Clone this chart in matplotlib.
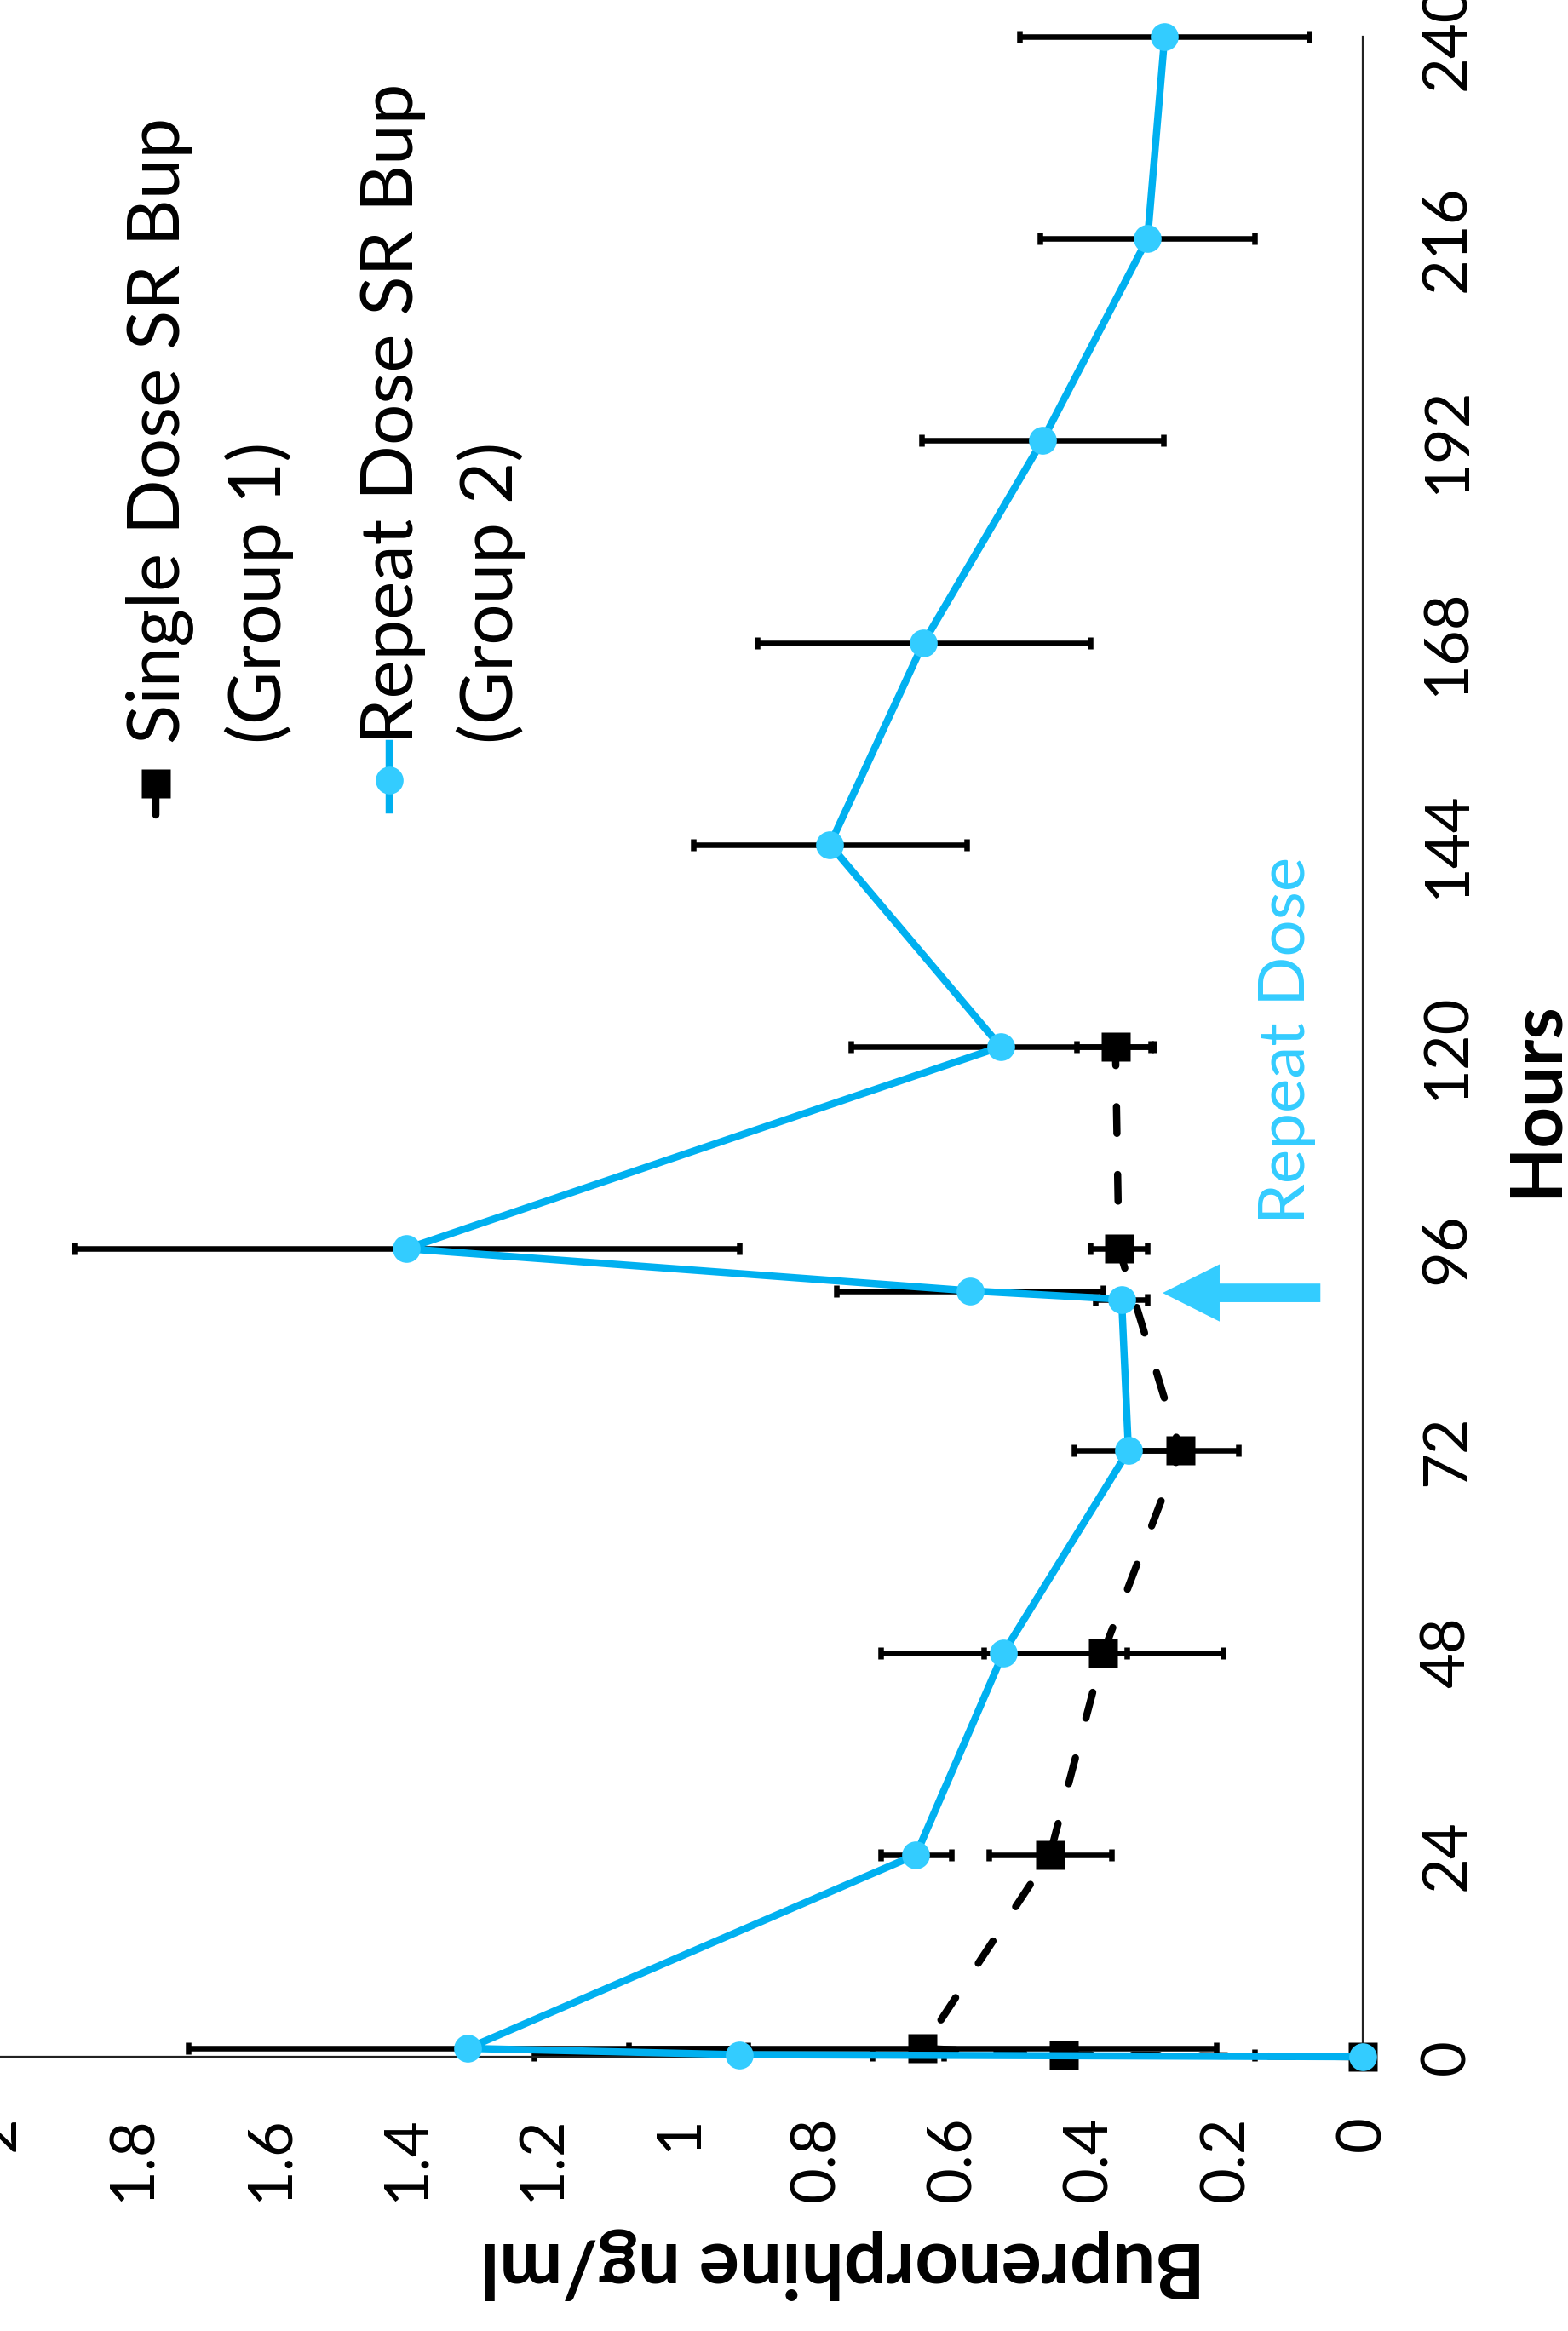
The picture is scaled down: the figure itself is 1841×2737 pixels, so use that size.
import matplotlib
matplotlib.use('Agg')
import matplotlib.pyplot as plt
from matplotlib.lines import Line2D

# plasma buprenorphine, ng/ml (mean and error)
hours_single = [0, 0.25, 1, 24, 48, 72, 96, 120]
bup_single = [0, 0.438, 0.645, 0.458, 0.38, 0.267, 0.357, 0.362]
err_single = [0, 0.28, 0.43, 0.09, 0.175, 0.085, 0.042, 0.057]

hours_repeat = [0, 0.25, 1, 24, 48, 72, 90, 91, 96, 120, 144, 168, 192, 216, 240]
bup_repeat = [0, 0.913, 1.31, 0.654, 0.526, 0.343, 0.353, 0.575, 1.40,
              0.53, 0.78, 0.643, 0.469, 0.315, 0.29]
err_repeat = [0, 0.30, 0.41, 0.052, 0.18, 0.08, 0.038, 0.195, 0.487,
              0.22, 0.2, 0.244, 0.177, 0.157, 0.212]

hour_ticks = [0, 24, 48, 72, 96, 120, 144, 168, 192, 216, 240]
conc_ticks = [0, 0.2, 0.4, 0.6, 0.8, 1.0, 1.2, 1.4, 1.6, 1.8, 2.0]
conc_labels = ['0', '0.2', '0.4', '0.6', '0.8', '1', '1.2', '1.4', '1.6', '1.8', '2']
repeat_dose_hour = 90.75

BLUE_LINE = '#00B0F0'
BLUE_MARK = '#33CCFF'
FONT = ['Lato', 'DejaVu Sans']

W, H = 1841, 2737
plt.rcParams['font.family'] = FONT
fig = plt.figure(figsize=(W / 100, H / 100), dpi=100)


def fx(x):
    return x / W


def fy(y):
    return 1 - y / H


# the whole chart is turned 90 degrees: hours run up, concentration runs left
ax = fig.add_axes([fx(-4), fy(2415), (1600 + 4) / W, (2415 - 43) / H])
ax.set_xlim(2, 0)
ax.set_ylim(0, 240)

ax.errorbar(bup_single, hours_single, xerr=err_single, fmt='none', ecolor='black',
            elinewidth=4.7, capsize=4.7, capthick=4.7, zorder=1, clip_on=False)
ax.errorbar(bup_repeat, hours_repeat, xerr=err_repeat, fmt='none', ecolor='black',
            elinewidth=4.7, capsize=4.7, capthick=4.7, zorder=1, clip_on=False)

ax.plot(bup_single, hours_single, color='black', lw=6.1, ls=(0, (3.7, 5.7)),
        dash_capstyle='round', marker='s', ms=24, mec='none', zorder=2, clip_on=False)
ax.plot(bup_repeat, hours_repeat, color=BLUE_LINE, lw=6.1, zorder=3, clip_on=False)
ax.plot(bup_repeat, hours_repeat, ls='none', marker='o', ms=23.5, color=BLUE_MARK,
        mec='none', zorder=4, clip_on=False)

ax.arrow(0.062, repeat_dose_hour, 0.231, 0, width=2.2, head_width=6.8,
         head_length=0.0835, length_includes_head=True, color=BLUE_MARK, lw=0,
         zorder=5, clip_on=False)

for s in ['top', 'left']:
    ax.spines[s].set_visible(False)
for s in ['right', 'bottom']:
    ax.spines[s].set_linewidth(1.6)
    ax.spines[s].set_color('#222222')

ax.yaxis.tick_right()
ax.set_yticks(hour_ticks)
ax.set_yticklabels([str(h) for h in hour_ticks], rotation=90, va='center', ha='left')
ax.set_xticks(conc_ticks)
ax.set_xticklabels(conc_labels, rotation=90, va='top', ha='center')
ax.tick_params(axis='y', length=0, pad=48, labelsize=52)
ax.tick_params(axis='x', length=0, pad=50, labelsize=52)

# axis titles
fig.text(fx(1828), fy(1291), 'Hours', rotation=90, rotation_mode='anchor',
         ha='center', va='baseline', fontsize=61, fontweight='bold')
fig.text(fx(990), fy(2634), 'Buprenorphine ng/ml', rotation=180, rotation_mode='anchor',
         ha='center', va='baseline', fontsize=64, fontweight='bold')

# annotation
fig.text(fx(1532), fy(1437), 'Repeat Dose', rotation=90, rotation_mode='anchor',
         ha='left', va='baseline', fontsize=55, color=BLUE_MARK)

# legend (drawn by hand, turned like the rest)
fig.add_artist(Line2D([fx(183), fx(183)], [fy(920), fy(957)], color='black', lw=6.1,
                      solid_capstyle='round'))
fig.add_artist(Line2D([fx(183)], [fy(920)], marker='s', ms=24, color='black', mec='none'))
fig.add_artist(Line2D([fx(457), fx(457)], [fy(873), fy(951)], color=BLUE_LINE, lw=6.1))
fig.add_artist(Line2D([fx(457)], [fy(916)], marker='o', ms=23.5, color=BLUE_MARK, mec='none'))

legend_lines = [(210, 'Single Dose SR Bup'), (330, '(Group 1)'),
                (485, 'Repeat Dose SR Bup'), (602, '(Group 2)')]
for bx, txt in legend_lines:
    fig.text(fx(bx), fy(873), txt, rotation=90, rotation_mode='anchor',
             ha='left', va='baseline', fontsize=61.5)

fig.savefig('out.png', dpi=100)
